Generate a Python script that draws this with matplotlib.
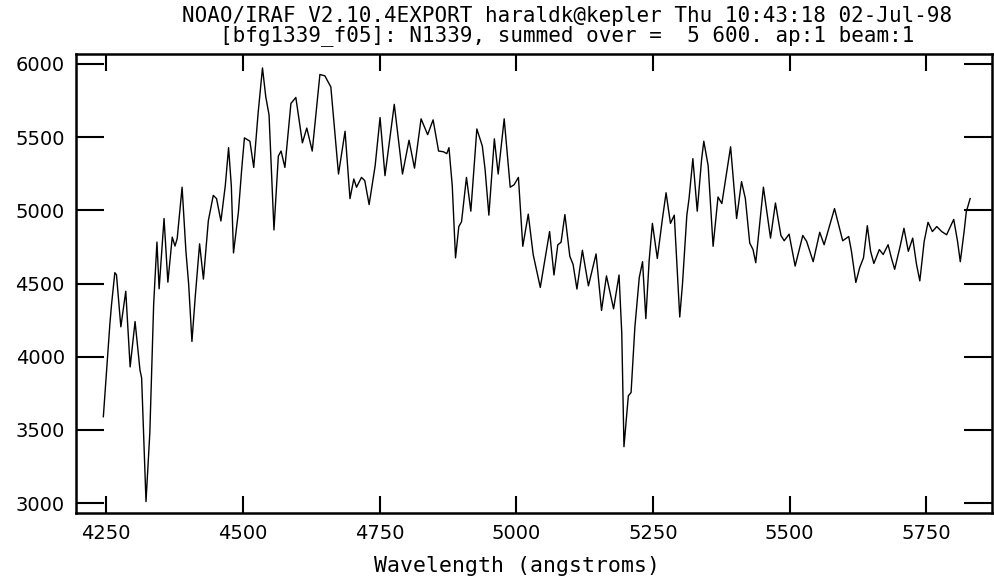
import matplotlib
matplotlib.use("Agg")
import matplotlib.pyplot as plt

# spectrum: wavelength (angstroms) and counts
wavelength = [
    4245, 4257, 4260, 4266, 4269, 4277, 4286, 4294, 4303, 4312, 4315, 4323,
    4330, 4337, 4343, 4347, 4356, 4363, 4371, 4376, 4380, 4389, 4396, 4401,
    4407, 4413, 4421, 4428, 4437, 4446, 4452, 4460, 4468, 4474, 4479, 4483,
    4492, 4498, 4503, 4513, 4520, 4528, 4536, 4542, 4548, 4557, 4565, 4570,
    4577, 4588, 4597, 4609, 4617, 4627, 4641, 4650, 4661, 4675, 4687, 4696,
    4703, 4708, 4717, 4723, 4731, 4742, 4751, 4760, 4777, 4786, 4792, 4804,
    4814, 4826, 4838, 4848, 4858, 4867, 4873, 4877, 4883, 4889, 4895, 4900,
    4909, 4917, 4928, 4938, 4943, 4950, 4960, 4967, 4978, 4989, 4996, 5004,
    5012, 5022, 5031, 5044, 5061, 5069, 5076, 5082, 5089, 5098, 5104, 5111,
    5121, 5132, 5146, 5156, 5165, 5178, 5188, 5193, 5197, 5205, 5210, 5217,
    5225, 5231, 5237, 5243, 5249, 5258, 5267, 5274, 5282, 5289, 5299, 5304,
    5312, 5316, 5323, 5331, 5339, 5343, 5351, 5360, 5369, 5376, 5392, 5403,
    5412, 5419, 5427, 5433, 5438, 5452, 5465, 5474, 5484, 5490, 5499, 5510,
    5524, 5531, 5543, 5555, 5563, 5582, 5597, 5608, 5613, 5621, 5628, 5635,
    5642, 5648, 5654, 5664, 5671, 5680, 5686, 5692, 5702, 5709, 5717, 5725,
    5732, 5738, 5746, 5753, 5761, 5769, 5778, 5787, 5800, 5807, 5812, 5819,
    5823, 5830,
]
flux = [
    3590, 4226, 4357, 4574, 4560, 4204, 4447, 3930, 4240, 3908, 3855, 3010,
    3480, 4357, 4783, 4464, 4944, 4509, 4817, 4756, 4806, 5158, 4720, 4496,
    4104, 4407, 4771, 4530, 4929, 5102, 5080, 4927, 5169, 5428, 5169, 4709,
    4989, 5281, 5495, 5472, 5293, 5663, 5973, 5776, 5652, 4866, 5371, 5405,
    5293, 5730, 5771, 5461, 5562, 5405, 5928, 5919, 5843, 5248, 5540, 5080,
    5214, 5158, 5225, 5203, 5039, 5304, 5634, 5237, 5724, 5439, 5248, 5479,
    5288, 5625, 5517, 5618, 5405, 5400, 5387, 5428, 5169, 4675, 4889, 4922,
    5225, 4994, 5556, 5439, 5281, 4967, 5488, 5248, 5625, 5158, 5174, 5225,
    4754, 4974, 4698, 4473, 4855, 4558, 4764, 4782, 4971, 4686, 4630, 4462,
    4727, 4484, 4702, 4316, 4552, 4327, 4558, 4159, 3385, 3733, 3755, 4204,
    4541, 4649, 4260, 4653, 4911, 4671, 4933, 5120, 4911, 4967, 4271, 4496,
    4967, 5080, 5353, 4994, 5349, 5472, 5304, 4754, 5091, 5046, 5434, 4944,
    5196, 5080, 4776, 4732, 4642, 5158, 4810, 5050, 4828, 4792, 4837, 4619,
    4828, 4788, 4649, 4850, 4765, 5012, 4792, 4821, 4720, 4507, 4608, 4675,
    4895, 4720, 4637, 4732, 4698, 4765, 4675, 4597, 4754, 4877, 4720, 4810,
    4630, 4518, 4788, 4918, 4855, 4889, 4855, 4833, 4938, 4788, 4649, 4855,
    4990, 5080,
]

x_ticks = [4250, 4500, 4750, 5000, 5250, 5500, 5750]
y_ticks = [3000, 3500, 4000, 4500, 5000, 5500, 6000]

title1 = "NOAO/IRAF V2.10.4EXPORT haraldk@kepler Thu 10:43:18 02-Jul-98"
title2 = "[bfg1339_f05]: N1339, summed over =  5 600. ap:1 beam:1"

fig = plt.figure(figsize=(9.95, 5.81), dpi=100)
ax = fig.add_axes([76 / 995, 1 - 513 / 581, (992 - 76) / 995, (513 - 54) / 581])

ax.plot(wavelength, flux, color="black", linewidth=1.0)

ax.set_xlim(4195, 5870)
ax.set_ylim(2932, 6068)
ax.set_xticks(x_ticks)
ax.set_yticks(y_ticks)
ax.tick_params(axis="both", direction="in", top=True, right=True,
               labelsize=14, width=1.5, pad=8)
ax.tick_params(axis="y", length=20)
ax.tick_params(axis="x", length=12)
for s in ax.spines.values():
    s.set_linewidth(1.8)

mono = "DejaVu Sans Mono"
# both header lines as one text block, centred like the IRAF header
fig.text(567 / 995, 1 - 26 / 581, title1 + "\n" + title2, family=mono,
         fontsize=15, ha="center", va="center", multialignment="center",
         linespacing=0.95)
fig.text(517 / 995, 1 - 566 / 581, "Wavelength (angstroms)", family=mono,
         fontsize=15.5, ha="center", va="center")

fig.savefig("out.png", dpi=100)
